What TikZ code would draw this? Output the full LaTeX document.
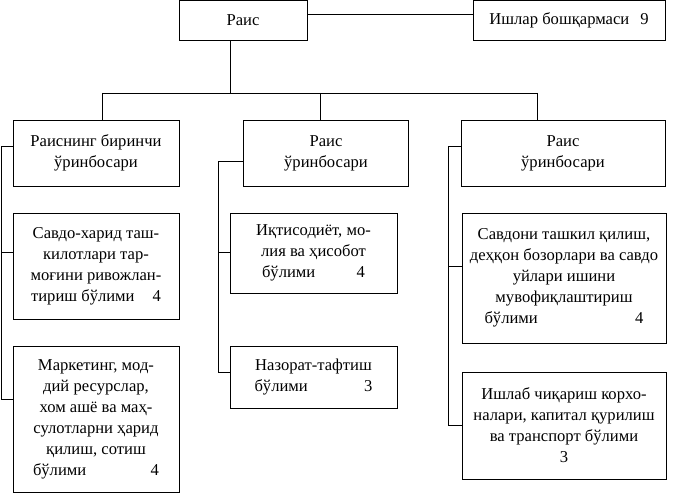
\documentclass[tikz,border=0pt]{standalone}
\usepackage{fontspec}
\setmainfont{Liberation Serif}

\begin{document}
\begin{tikzpicture}[x=1pt,y=-1pt]
        \tikzset{unit/.style={draw,line width=0.9pt,align=center,inner sep=2pt,
                font=\fontsize{16.6}{21}\selectfont},
            link/.style={draw,line width=0.9pt},
            every node/.append style={anchor=center}}
        \useasboundingbox (0,0) rectangle (693,494);
        % top level
        \node[unit,minimum width=128pt,minimum height=40pt] (rais) at (243,20) {Раис};
        \node[unit,minimum width=192pt,minimum height=40pt] (ishlar) at (569,20)
            {Ишлар бошқармаси\hspace{11pt}9};
        % deputies
        \node[unit,minimum width=166pt,minimum height=66pt] (dep1) at (96,153)
            {Раиснинг биринчи\\ўринбосари};
        \node[unit,minimum width=165pt,minimum height=66pt] (dep2) at (326,153)
            {Раис\\ўринбосари};
        \node[unit,minimum width=204pt,minimum height=66pt] (dep3) at (563,153)
            {Раис\\ўринбосари};
        % departments
        \node[unit,minimum width=166pt,minimum height=106pt] (savdo) at (96,266)
            {Савдо-харид таш-\\килотлари тар-\\моғини ривожлан-\\тириш бўлими\hspace{18pt}4};
        \node[unit,minimum width=166pt,minimum height=146pt] (market) at (96,419)
            {Маркетинг, мод-\\дий ресурслар,\\хом ашё ва маҳ-\\сулотларни ҳарид\\қилиш, сотиш\\
            \makebox[126pt]{бўлими\hfill4}};
        \node[unit,minimum width=167pt,minimum height=80pt] (iqtisod) at (313.5,253)
            {Иқтисодиёт, мо-\\лия ва ҳисобот\\\makebox[103pt]{бўлими\hfill4}};
        \node[unit,minimum width=167pt,minimum height=62pt] (nazorat) at (313.5,377)
            {Назорат-тафтиш\\\makebox[118pt]{бўлими\hfill3}};
        \node[unit,minimum width=204pt,minimum height=130pt] (bozor) at (564,278)
            {Савдони ташкил қилиш,\\деҳқон бозорлари ва савдо\\уйлари ишини\\мувофиқлаштириш\\
            \makebox[159pt]{бўлими\hfill4}};
        \node[unit,minimum width=204pt,minimum height=107pt] (ishlab) at (564,425.5)
            {Ишлаб чиқариш корхо-\\налари, капитал қурилиш\\ва транспорт бўлими\\3};
        % bus and rails
        \coordinate (bus) at (230,93);
        \coordinate (bus1) at (102.5,93);
        \coordinate (bus2) at (320,93);
        \coordinate (bus3) at (537,93);
        \coordinate (r1) at (1,0);
        \coordinate (r2) at (218.5,0);
        \coordinate (r3) at (448.5,0);
        \path[link] ([yshift=6pt]rais.east) -- ([yshift=6pt]ishlar.west);
        \path[link] ([xshift=-13pt]rais.south) -- (bus);
        \path[link] (bus1) -- (bus3);
        \path[link] (bus1) -- (bus1 |- dep1.north);
        \path[link] (bus2) -- (bus2 |- dep2.north);
        \path[link] (bus3) -- (bus3 |- dep3.north);
        \path[link] ([yshift=7pt]dep1.west) -- ([yshift=7pt]dep1.west -| r1)
            -- ([yshift=20pt]market.west -| r1) -- ([yshift=20pt]market.west);
        \path[link] ([yshift=14pt]savdo.west) -- ([yshift=14pt]savdo.west -| r1);
        \path[link] ([yshift=-8pt]dep2.west) -- ([yshift=-8pt]dep2.west -| r2)
            -- ([yshift=5pt]nazorat.west -| r2) -- ([yshift=5pt]nazorat.west);
        \path[link] ([yshift=1pt]iqtisod.west) -- ([yshift=1pt]iqtisod.west -| r2);
        \path[link] ([yshift=7pt]dep3.west) -- ([yshift=7pt]dep3.west -| r3)
            -- (ishlab.west -| r3) -- (ishlab.west);
        \path[link] ([yshift=12pt]bozor.west) -- ([yshift=12pt]bozor.west -| r3);
    \end{tikzpicture}
\end{document}
